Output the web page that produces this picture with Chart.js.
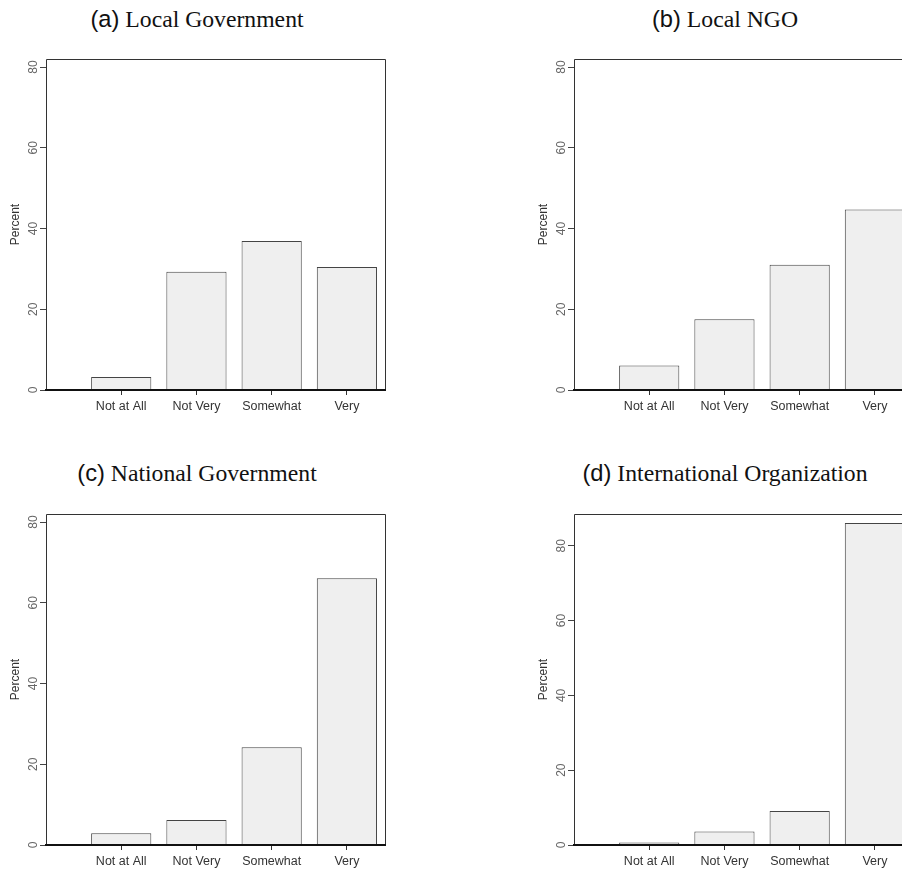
<!DOCTYPE html>
<html>
<head>
<meta charset="utf-8">
<script src="https://cdn.jsdelivr.net/npm/chart.js@4.4.1/dist/chart.umd.min.js"></script>
<style>
  html, body { margin: 0; padding: 0; background: #fff; overflow: hidden; width: 902px; height: 871px; }
  .panel { position: absolute; width: 400px; height: 380px; }
  .ttl { position: absolute; width: 394px; text-align: center; white-space: nowrap;
         font-family: "Liberation Serif", "Times New Roman", serif; font-size: 23.7px; line-height: 26px; color: #111; }
  .ttl span { font-family: "Liberation Sans", Arial, sans-serif; }
</style>
</head>
<body>
<div class="ttl" style="left:0;top:6px"><span>(a)</span> Local Government</div>
<div class="ttl" style="left:528px;top:6px"><span>(b)</span> Local NGO</div>
<div class="ttl" style="left:0;top:460px"><span>(c)</span> National Government</div>
<div class="ttl" style="left:528px;top:460px"><span>(d)</span> International Organization</div>

<div class="panel" style="left:0;top:50px"><canvas id="chartA"></canvas></div>
<div class="panel" style="left:528px;top:50px"><canvas id="chartB"></canvas></div>
<div class="panel" style="left:0;top:505px"><canvas id="chartC"></canvas></div>
<div class="panel" style="left:528px;top:505px"><canvas id="chartD"></canvas></div>

<script>
// Response categories (x axis)
const categories = ["Not at All", "Not Very", "Somewhat", "Very"];

// Percent of respondents per category
const localGovernment = [3.2, 29.3, 36.9, 30.5];
const localNGO = [6.1, 17.5, 31.0, 44.7];
const nationalGovernment = [2.9, 6.2, 24.2, 66.1];
const internationalOrg = [0.7, 3.6, 9.1, 86.1];

// Y-axis tick values
const yTicks = [0, 20, 40, 60, 80];

Chart.defaults.font.family = '"Liberation Sans", Arial, sans-serif';
Chart.defaults.animation = false;

// Plot frame: thin box with a heavier baseline at zero
const framePlugin = {
  id: 'frame',
  afterDatasetsDraw(chart) {
    const { ctx, chartArea: { left, right, top, bottom } } = chart;
    ctx.save();
    ctx.strokeStyle = '#333';
    ctx.lineWidth = 1;
    ctx.beginPath();
    ctx.moveTo(left + 0.5, bottom);
    ctx.lineTo(left + 0.5, top + 0.5);
    ctx.lineTo(right - 0.5, top + 0.5);
    ctx.lineTo(right - 0.5, bottom);
    ctx.stroke();
    ctx.strokeStyle = '#111';
    ctx.lineWidth = 2;
    ctx.beginPath();
    ctx.moveTo(left - 1, bottom);
    ctx.lineTo(right, bottom);
    ctx.stroke();
    ctx.restore();
  }
};

function makeChart(id, values, yMax) {
  return new Chart(document.getElementById(id), {
    type: 'bar',
    data: {
      datasets: [{
        data: values.map((v, i) => ({ x: i + 1, y: v })),
        backgroundColor: '#efefef',
        borderColor: '#444',
        borderWidth: 1,
        barPercentage: 0.8,
        categoryPercentage: 1.0
      }]
    },
    options: {
      responsive: true,
      maintainAspectRatio: false,
      layout: { padding: { top: 9, right: 14, left: 0, bottom: 0 } },
      plugins: { legend: { display: false }, tooltip: { enabled: false } },
      scales: {
        x: {
          type: 'linear',
          min: 0,
          max: 4.52,
          offset: false,
          afterBuildTicks: s => { s.ticks = categories.map((c, i) => ({ value: i + 1 })); },
          afterFit: s => { s.height = 40; },
          grid: { display: true, offset: false, drawOnChartArea: false, drawTicks: true, tickLength: 5, color: '#333' },
          border: { display: false },
          ticks: {
            autoSkip: false,
            maxRotation: 0,
            padding: 4,
            color: '#333',
            font: { size: 12.5 },
            callback: v => categories[v - 1]
          }
        },
        y: {
          type: 'linear',
          min: 0,
          max: yMax,
          afterBuildTicks: s => { s.ticks = yTicks.map(v => ({ value: v })); },
          afterFit: s => { s.width = 46; },
          grid: { display: true, drawOnChartArea: false, drawTicks: true, tickLength: 6, color: '#444' },
          border: { display: false },
          title: {
            display: true,
            text: 'Percent',
            color: '#333',
            font: { size: 12 },
            padding: { top: 8, bottom: 0 }
          },
          ticks: {
            minRotation: 90,
            maxRotation: 90,
            crossAlign: 'center',
            padding: 0,
            color: '#666',
            font: { size: 12 },
            callback: v => String(v)
          }
        }
      }
    },
    plugins: [framePlugin]
  });
}

makeChart('chartA', localGovernment, 82);
makeChart('chartB', localNGO, 82);
makeChart('chartC', nationalGovernment, 82);
makeChart('chartD', internationalOrg, 88.5);
</script>
</body>
</html>
